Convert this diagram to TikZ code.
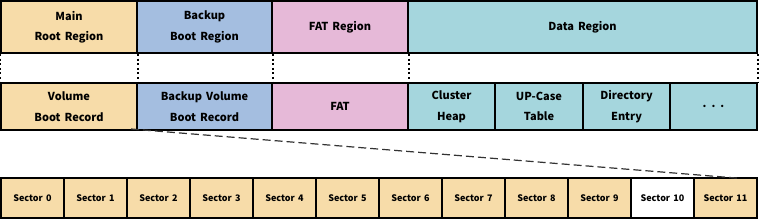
\documentclass[tikz,border=0pt]{standalone}
\usepackage{fontspec}
\setmainfont{Noto Sans CJK KR}[WordSpace={1.6}]
\definecolor{tanc}{RGB}{247,220,169}
\definecolor{bluec}{RGB}{164,190,224}
\definecolor{pinkc}{RGB}{230,185,216}
\definecolor{tealc}{RGB}{165,214,221}
\begin{document}
\begin{tikzpicture}[x=1pt,y=-1pt,
  cell/.style={draw=black,line width=2pt,inner sep=0pt,align=center,
    font=\fontsize{11}{20.5}\selectfont\bfseries},
  sec/.style={draw=black,line width=1.5pt,inner sep=0pt,fill=tanc,
    minimum width=63.0pt,minimum height=40pt,
    font=\fontsize{9}{10}\selectfont\bfseries},
  dots/.style={line width=2pt,dash pattern=on 2pt off 2.6pt}]
\useasboundingbox (0,0) rectangle (759,219);
% Row 1
\node[cell,fill=tanc,minimum width=136pt,minimum height=52pt] (mrr) at (69,27) {Main\\Root Region};
\node[cell,fill=bluec,minimum width=135pt,minimum height=52pt] (bbr) at (204.5,27) {Backup\\Boot Region};
\node[cell,fill=pinkc,minimum width=136pt,minimum height=52pt] (fatr) at (340,27) {FAT Region};
\node[cell,fill=tealc,minimum width=349pt,minimum height=52pt] (data) at (582.5,27) {Data Region};
% Row 3
\node[cell,fill=tanc,minimum width=136pt,minimum height=47pt] (vbr) at (69,106.5) {Volume\\Boot Record};
\node[cell,fill=bluec,minimum width=135pt,minimum height=47pt] (bvbr) at (204.5,106.5) {Backup Volume\\Boot Record};
\node[cell,fill=pinkc,minimum width=136pt,minimum height=47pt] (fat) at (340,106.5) {FAT};
\node[cell,fill=tealc,minimum width=87pt,minimum height=47pt] (ch) at (451.5,106.5) {Cluster\\Heap};
\node[cell,fill=tealc,minimum width=88pt,minimum height=47pt] (up) at (539,106.5) {UP-Case\\Table};
\node[cell,fill=tealc,minimum width=87pt,minimum height=47pt] (de) at (626.5,106.5) {Directory\\Entry};
\node[cell,fill=tealc,minimum width=87pt,minimum height=47pt] (more) at (713.5,106.5) {.\hspace{5pt}.\hspace{5pt}.};
% dotted verticals
\draw[dots] (mrr.south west) -- (vbr.north west);
\draw[dots] (mrr.south east) -- (vbr.north east);
\draw[dots] (bbr.south east) -- (bvbr.north east);
\draw[dots] (fatr.south east) -- (fat.north east);
\draw[dots] (data.south east) -- (more.north east);
% Sectors
\foreach \i in {0,...,11} {
  \node[sec] (s\i) at ({1+63*\i+31.5},198) {Sector \i};
}
\node[sec,fill=white] at (s10) {Sector 10};
% dashed zoom line
\draw[black!80,line width=1.2pt,dash pattern=on 8pt off 4pt]
  ([xshift=-7pt,yshift=2pt]vbr.south east) -- ([xshift=-19pt,yshift=-1pt]s11.north east);
\end{tikzpicture}
\end{document}
